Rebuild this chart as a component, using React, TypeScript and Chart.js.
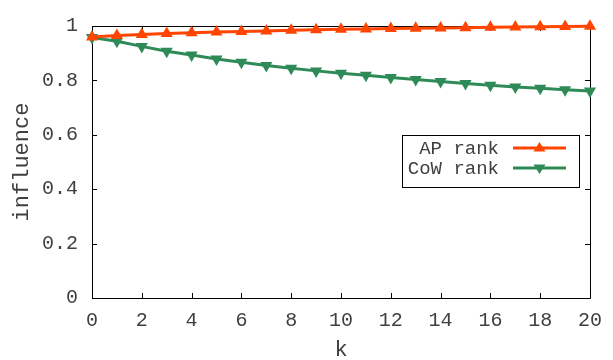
import { useEffect, useRef } from "react";
import { Chart, registerables } from "chart.js";
Chart.register(...registerables);

const kValues = [0, 1, 2, 3, 4, 5, 6, 7, 8, 9, 10, 11, 12, 13, 14, 15, 16, 17, 18, 19, 20];
const apRank = [0.960, 0.965, 0.969, 0.972, 0.975, 0.978, 0.980, 0.982, 0.984, 0.986, 0.988, 0.989, 0.991, 0.992, 0.993, 0.994, 0.995, 0.996, 0.997, 0.998, 0.999];
const cowRank = [0.958, 0.944, 0.925, 0.907, 0.893, 0.879, 0.867, 0.855, 0.845, 0.835, 0.826, 0.819, 0.811, 0.803, 0.796, 0.789, 0.782, 0.776, 0.771, 0.766, 0.761];
const seriesNames = ["AP rank", "CoW rank"];
const xTicks = [0, 2, 4, 6, 8, 10, 12, 14, 16, 18, 20];
const yTicks = [0, 0.2, 0.4, 0.6, 0.8, 1];

const FONT = "Liberation Mono";
const FS = 20;
const TEXT = "#404040";
const RED = "#FF4500";
const GREEN = "#2E8B57";

const framePlugin = {
  id: "frame",
  beforeDatasetsDraw(chart: any) {
    const { ctx, chartArea } = chart;
    const { left, right, top, bottom } = chartArea;
    const xs = chart.scales.x;
    const ys = chart.scales.y;
    ctx.save();
    ctx.strokeStyle = "#000";
    ctx.lineWidth = 1;
    ctx.beginPath();
    ctx.rect(left + 0.5, top + 0.5, right - left, bottom - top);
    ctx.stroke();
    const tl = 5;
    ctx.beginPath();
    for (const v of xTicks) {
      const px = Math.round(xs.getPixelForValue(v)) + 0.5;
      ctx.moveTo(px, bottom);
      ctx.lineTo(px, bottom - tl);
      ctx.moveTo(px, top);
      ctx.lineTo(px, top + tl);
    }
    for (const v of yTicks) {
      const py = Math.round(ys.getPixelForValue(v)) + 0.5;
      ctx.moveTo(left, py);
      ctx.lineTo(left + tl, py);
      ctx.moveTo(right, py);
      ctx.lineTo(right - tl, py);
    }
    ctx.stroke();
    ctx.restore();
  },
  afterDraw(chart: any) {
    const { ctx, chartArea } = chart;
    const { left, right, top, bottom } = chartArea;
    ctx.save();
    // axis titles
    ctx.fillStyle = TEXT;
    ctx.font = `22px "${FONT}"`;
    ctx.textAlign = "center";
    ctx.textBaseline = "middle";
    ctx.fillText("k", (left + right) / 2, 350);
    ctx.save();
    ctx.translate(22, (top + bottom) / 2);
    ctx.rotate(-Math.PI / 2);
    ctx.fillText("influence", 0, 0);
    ctx.restore();

    // legend
    const bx = 402, by = 135, bw = 177, bh = 52;
    ctx.fillStyle = "#fff";
    ctx.fillRect(bx, by, bw, bh);
    ctx.strokeStyle = "#000";
    ctx.lineWidth = 1;
    ctx.strokeRect(bx + 0.5, by + 0.5, bw, bh);
    const rows = [
      { name: seriesNames[0], color: RED, rot: 0, y: 148 },
      { name: seriesNames[1], color: GREEN, rot: 180, y: 168 },
    ];
    ctx.font = `${FS - 1}px "${FONT}"`;
    ctx.textAlign = "right";
    for (const r of rows) {
      ctx.fillStyle = TEXT;
      ctx.fillText(r.name, 499, r.y + 1);
      ctx.strokeStyle = r.color;
      ctx.lineWidth = 3;
      ctx.beginPath();
      ctx.moveTo(513, r.y);
      ctx.lineTo(566, r.y);
      ctx.stroke();
      ctx.fillStyle = r.color;
      const cx = 539.5, s = 6;
      ctx.beginPath();
      if (r.rot === 0) {
        ctx.moveTo(cx, r.y - s);
        ctx.lineTo(cx + s, r.y + s * 0.6);
        ctx.lineTo(cx - s, r.y + s * 0.6);
      } else {
        ctx.moveTo(cx, r.y + s);
        ctx.lineTo(cx + s, r.y - s * 0.6);
        ctx.lineTo(cx - s, r.y - s * 0.6);
      }
      ctx.closePath();
      ctx.fill();
    }
    ctx.restore();
  },
};

export default function App() {
  const ref = useRef<HTMLCanvasElement | null>(null);
  useEffect(() => {
    if (!ref.current) return;
    const chart = new Chart(ref.current, {
      type: "line",
      data: {
        datasets: [
          {
            label: seriesNames[0],
            data: kValues.map((k, i) => ({ x: k, y: apRank[i] })),
            borderColor: RED,
            backgroundColor: RED,
            borderWidth: 3,
            pointStyle: "triangle",
            pointRadius: 7,
            pointBorderWidth: 0,
            clip: false as any,
          },
          {
            label: seriesNames[1],
            data: kValues.map((k, i) => ({ x: k, y: cowRank[i] })),
            borderColor: GREEN,
            backgroundColor: GREEN,
            borderWidth: 3,
            pointStyle: "triangle",
            pointRotation: 180,
            pointRadius: 7,
            pointBorderWidth: 0,
            clip: false as any,
          },
        ],
      },
      options: {
        responsive: false,
        animation: false,
        layout: { padding: { left: 0, top: 14, right: 21, bottom: 0 } },
        plugins: { legend: { display: false }, tooltip: { enabled: false } },
        scales: {
          x: {
            type: "linear",
            min: 0,
            max: 20,
            afterFit: (s: any) => { s.height = 62; },
            afterBuildTicks: (s: any) => { s.ticks = xTicks.map((v) => ({ value: v })); },
            grid: { display: false, drawTicks: false },
            border: { display: false },
            ticks: { color: TEXT, font: { family: FONT, size: FS }, padding: 11, maxRotation: 0, callback: (v: any) => String(v) },
          },
          y: {
            type: "linear",
            min: 0,
            max: 1,
            afterFit: (s: any) => { s.width = 92; },
            afterBuildTicks: (s: any) => { s.ticks = yTicks.map((v) => ({ value: v })); },
            grid: { display: false, drawTicks: false },
            border: { display: false },
            ticks: { color: TEXT, font: { family: FONT, size: FS }, padding: 14, callback: (v: any) => String(Math.round(v * 10) / 10) },
          },
        },
      },
      plugins: [framePlugin],
    });
    return () => chart.destroy();
  }, []);
  return (
    <div style={{ position: "absolute", left: 0, top: 0, width: 613, height: 360, background: "#fff" }}>
      <canvas ref={ref} width={613} height={360} />
    </div>
  );
}
